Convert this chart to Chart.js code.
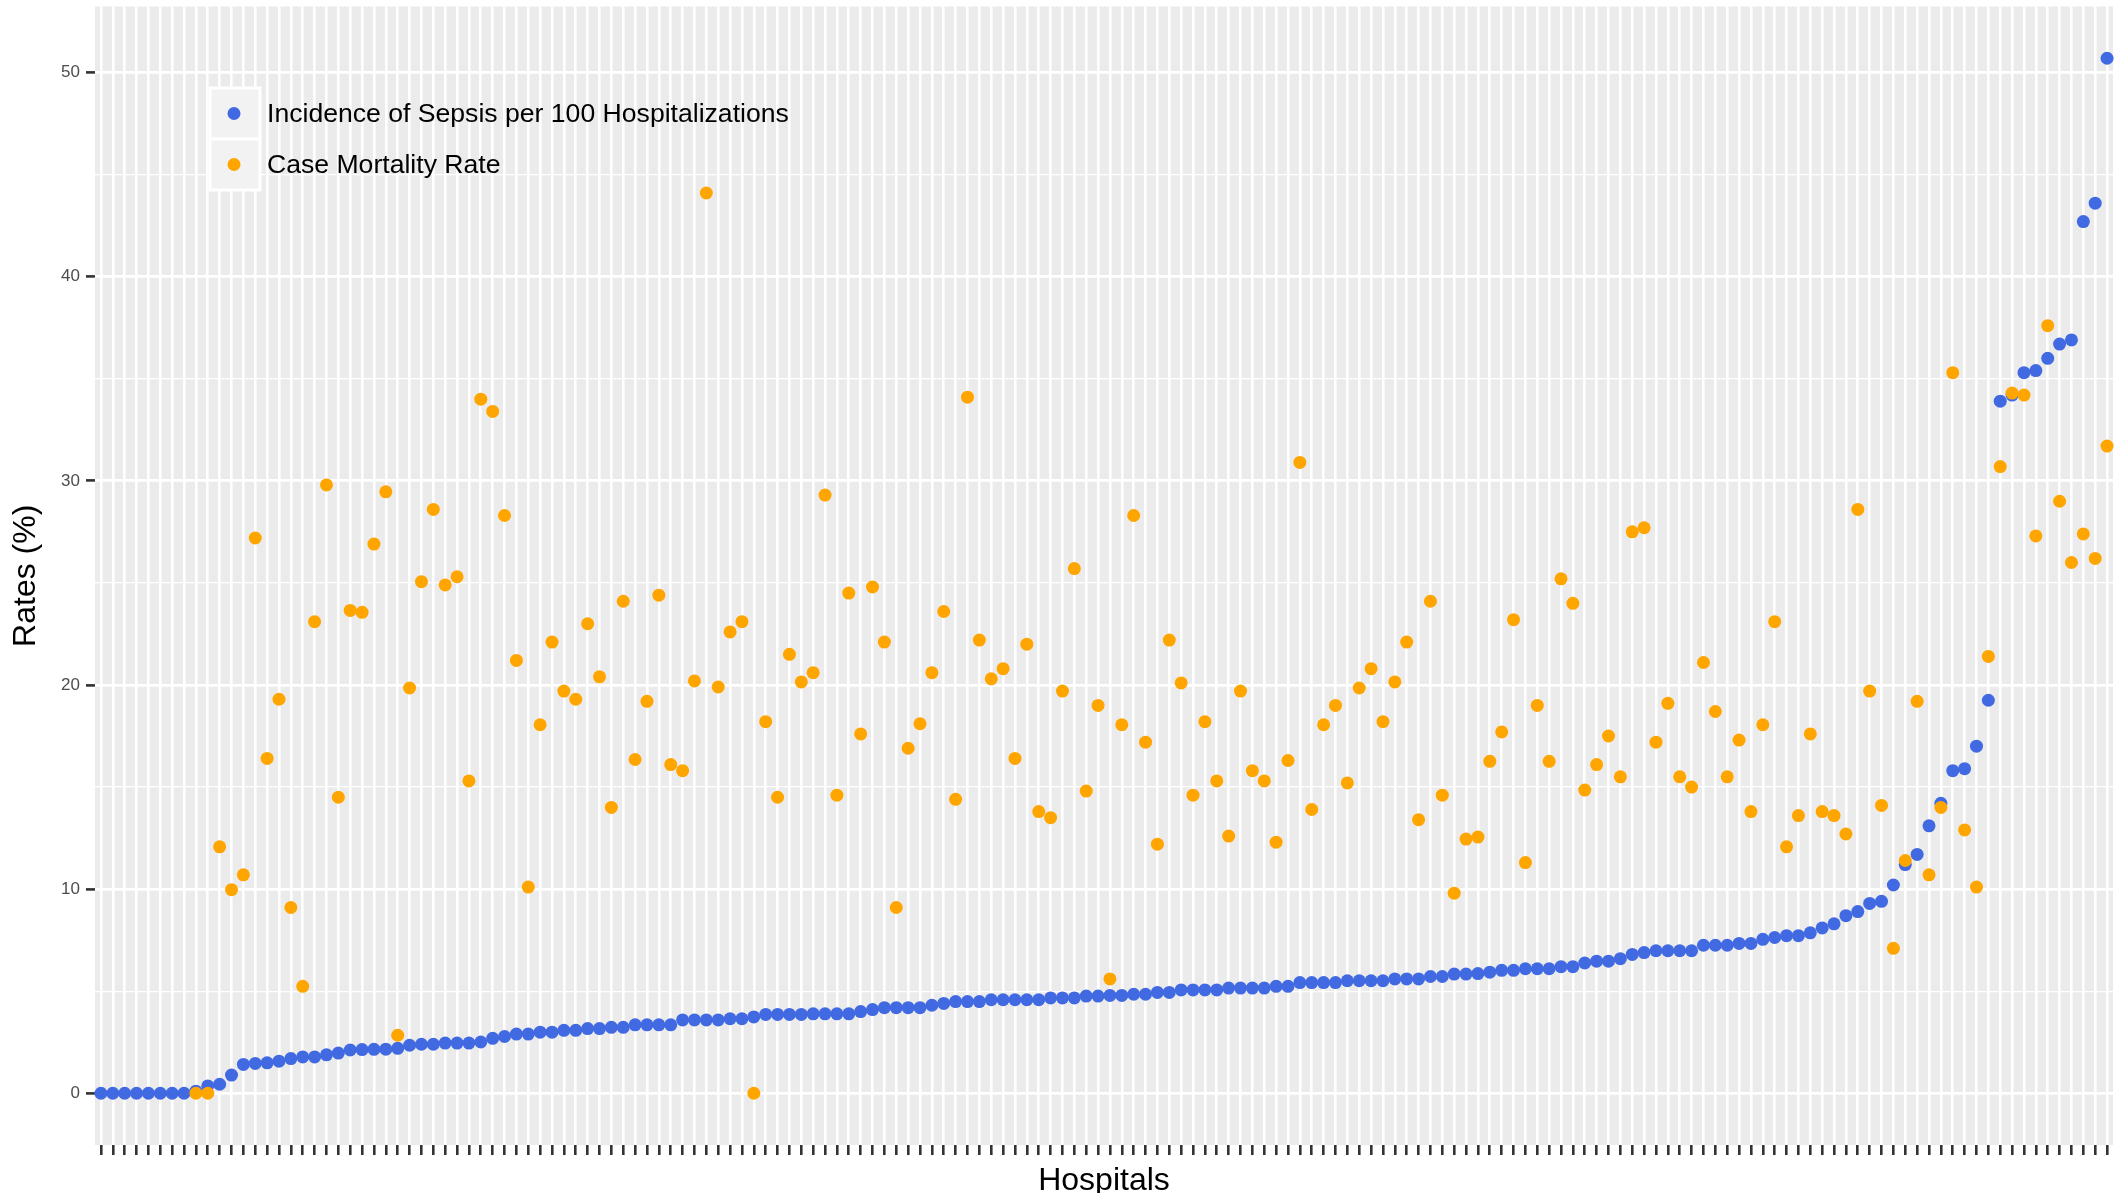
<!DOCTYPE html>
<html>
<head>
<meta charset="utf-8">
<script src="https://cdn.jsdelivr.net/npm/chart.js@4.4.1/dist/chart.umd.min.js"></script>
<style>
  html, body { margin: 0; padding: 0; background: #ffffff; }
  #wrap { width: 2120px; height: 1193px; }
</style>
</head>
<body>
<div id="wrap"><canvas id="c" width="2120" height="1193"></canvas></div>
<script>
// ---- data ----
const hospitals = Array.from({ length: 170 }, (_, i) => 'Hospital ' + (i + 1));

const seriesNames = ['Incidence of Sepsis per 100 Hospitalizations', 'Case Mortality Rate'];

const incidence = [
  0, 0, 0, 0, 0, 0, 0, 0, 0.1, 0.36,
  0.44, 0.89, 1.41, 1.46, 1.49, 1.57, 1.70, 1.78, 1.78, 1.88,
  1.97, 2.12, 2.14, 2.15, 2.16, 2.2, 2.35, 2.4, 2.4, 2.46,
  2.46, 2.46, 2.51, 2.69, 2.78, 2.9, 2.9, 2.99, 2.99, 3.08,
  3.08, 3.17, 3.17, 3.23, 3.23, 3.35, 3.35, 3.35, 3.35, 3.59,
  3.59, 3.59, 3.59, 3.65, 3.65, 3.74, 3.86, 3.86, 3.86, 3.86,
  3.89, 3.89, 3.89, 3.89, 4.0, 4.1, 4.19, 4.19, 4.19, 4.19,
  4.31, 4.40, 4.49, 4.49, 4.49, 4.58, 4.58, 4.58, 4.58, 4.58,
  4.67, 4.67, 4.67, 4.76, 4.76, 4.79, 4.79, 4.85, 4.85, 4.94,
  4.94, 5.06, 5.06, 5.06, 5.06, 5.15, 5.15, 5.15, 5.15, 5.24,
  5.24, 5.42, 5.42, 5.42, 5.42, 5.51, 5.51, 5.51, 5.51, 5.6,
  5.6, 5.6, 5.72, 5.72, 5.84, 5.84, 5.86, 5.93, 6.02, 6.02,
  6.1, 6.1, 6.1, 6.2, 6.2, 6.38, 6.47, 6.47, 6.59, 6.8,
  6.89, 6.98, 6.98, 6.98, 6.98, 7.25, 7.25, 7.25, 7.34, 7.34,
  7.54, 7.63, 7.72, 7.72, 7.86, 8.1, 8.3, 8.7, 8.9, 9.3,
  9.4, 10.2, 11.2, 11.7, 13.1, 14.2, 15.8, 15.9, 17.0, 19.25,
  33.9, 34.2, 35.3, 35.4, 36.0, 36.7, 36.9, 42.7, 43.6, 50.7
];

const mortality = [
  null, null, null, null, null, null, null, null, 0, 0,
  12.07, 9.97, 10.7, 27.2, 16.4, 19.3, 9.1, 5.24, 23.1, 29.8,
  14.5, 23.65, 23.56, 26.9, 29.46, 2.84, 19.85, 25.06, 28.6, 24.9,
  25.3, 15.3, 34.0, 33.4, 28.3, 21.2, 10.1, 18.05, 22.1, 19.7,
  19.3, 23.0, 20.4, 14.0, 24.1, 16.35, 19.2, 24.4, 16.1, 15.8,
  20.2, 44.1, 19.9, 22.6, 23.1, 0, 18.2, 14.5, 21.5, 20.15,
  20.6, 29.3, 14.6, 24.5, 17.6, 24.8, 22.1, 9.1, 16.9, 18.1,
  20.6, 23.6, 14.4, 34.1, 22.2, 20.3, 20.8, 16.4, 22.0, 13.8,
  13.5, 19.7, 25.7, 14.8, 19.0, 5.6, 18.05, 28.3, 17.2, 12.2,
  22.2, 20.1, 14.6, 18.2, 15.3, 12.6, 19.7, 15.8, 15.3, 12.3,
  16.3, 30.9, 13.9, 18.05, 19.0, 15.2, 19.85, 20.8, 18.2, 20.15,
  22.1, 13.4, 24.1, 14.6, 9.8, 12.45, 12.55, 16.26, 17.7, 23.2,
  11.3, 19.0, 16.26, 25.2, 24.0, 14.85, 16.1, 17.5, 15.5, 27.5,
  27.7, 17.2, 19.1, 15.5, 15.0, 21.1, 18.7, 15.5, 17.3, 13.8,
  18.05, 23.1, 12.07, 13.6, 17.6, 13.8, 13.6, 12.7, 28.6, 19.7,
  14.1, 7.1, 11.4, 19.2, 10.7, 14.0, 35.3, 12.9, 10.1, 21.4,
  30.7, 34.3, 34.2, 27.3, 37.6, 29.0, 26.0, 27.4, 26.2, 31.7
];

const yTickLabels = [0, 10, 20, 30, 40, 50];
const yMin = -2.535, yMax = 53.235;

// ---- styling ----
const FONT = "'Liberation Sans', Arial, Helvetica, sans-serif";
const BLUE = '#4169E1';
const ORANGE = '#FFA500';

const panelBg = {
  id: 'panelBg',
  beforeDraw(chart) {
    const { ctx, chartArea: a } = chart;
    ctx.save();
    ctx.fillStyle = '#EBEBEB';
    ctx.fillRect(a.left, a.top, a.right - a.left, a.bottom - a.top);
    ctx.restore();
  }
};

const insideLegend = {
  id: 'insideLegend',
  afterDraw(chart) {
    const { ctx } = chart;
    const x0 = 210, w = 50, y0 = 88, h = 51;
    ctx.save();
    chart.data.datasets.forEach((ds, k) => {
      const y = y0 + k * h;
      ctx.fillStyle = '#F2F2F2';
      ctx.fillRect(x0, y, w, h);
      ctx.strokeStyle = '#FFFFFF';
      ctx.lineWidth = 3;
      ctx.strokeRect(x0, y, w, h);
      ctx.beginPath();
      ctx.fillStyle = ds.pointBackgroundColor;
      ctx.arc(x0 + w / 2 - 1, y + h / 2, 6.5, 0, Math.PI * 2);
      ctx.fill();
      ctx.fillStyle = '#000000';
      ctx.font = '26.6px ' + FONT;
      ctx.textBaseline = 'middle';
      ctx.textAlign = 'left';
      ctx.fillText(ds.label, 267, y + h / 2 + 1);
    });
    ctx.restore();
  }
};

new Chart(document.getElementById('c'), {
  type: 'line',
  data: {
    labels: hospitals,
    datasets: [
      {
        label: seriesNames[0],
        data: incidence,
        showLine: false,
        pointRadius: 6.5,
        pointHoverRadius: 6.5,
        pointBorderWidth: 0,
        pointBackgroundColor: BLUE,
        pointBorderColor: BLUE,
        order: 2
      },
      {
        label: seriesNames[1],
        data: mortality,
        showLine: false,
        pointRadius: 6.5,
        pointHoverRadius: 6.5,
        pointBorderWidth: 0,
        pointBackgroundColor: ORANGE,
        pointBorderColor: ORANGE,
        order: 1
      }
    ]
  },
  options: {
    responsive: false,
    animation: false,
    events: [],
    layout: { padding: { left: 0, right: 7, top: 3, bottom: 0 } },
    plugins: { legend: { display: false }, tooltip: { enabled: false } },
    scales: {
      x: {
        type: 'category',
        offset: true,
        border: { display: false },
        grid: {
          offset: false,
          color: '#FFFFFF',
          lineWidth: 2.6,
          drawTicks: true,
          tickLength: 10,
          tickColor: '#333333',
          tickWidth: 2.6
        },
        ticks: { display: false, autoSkip: false },
        title: {
          display: true,
          text: 'Hospitals',
          color: '#000000',
          font: { family: FONT, size: 32, lineHeight: 0.75 },
          padding: { top: 0, bottom: 0 }
        },
        afterFit(scale) { scale.height = 48; scale.paddingLeft = 0; scale.paddingRight = 0; }
      },
      y: {
        min: yMin,
        max: yMax,
        border: { display: false },
        grid: {
          color: '#FFFFFF',
          lineWidth: (c) => (c.tick && yTickLabels.includes(c.tick.value)) ? 2.8 : 1.3,
          drawTicks: true,
          tickLength: 9,
          tickColor: (c) => (c.tick && yTickLabels.includes(c.tick.value)) ? '#333333' : 'rgba(0,0,0,0)',
          tickWidth: 2.6
        },
        ticks: {
          stepSize: 5,
          includeBounds: false,
          autoSkip: false,
          padding: 6,
          color: '#4D4D4D',
          font: { family: FONT, size: 17 },
          callback: (v) => yTickLabels.includes(v) ? String(v) : ''
        },
        title: {
          display: true,
          text: 'Rates (%)',
          color: '#000000',
          font: { family: FONT, size: 32, lineHeight: 1 },
          padding: { top: 10, bottom: 0 }
        },
        afterFit(scale) { scale.width = 95; scale.paddingTop = 0; scale.paddingBottom = 0; }
      }
    }
  },
  plugins: [panelBg, insideLegend]
});
</script>
</body>
</html>
